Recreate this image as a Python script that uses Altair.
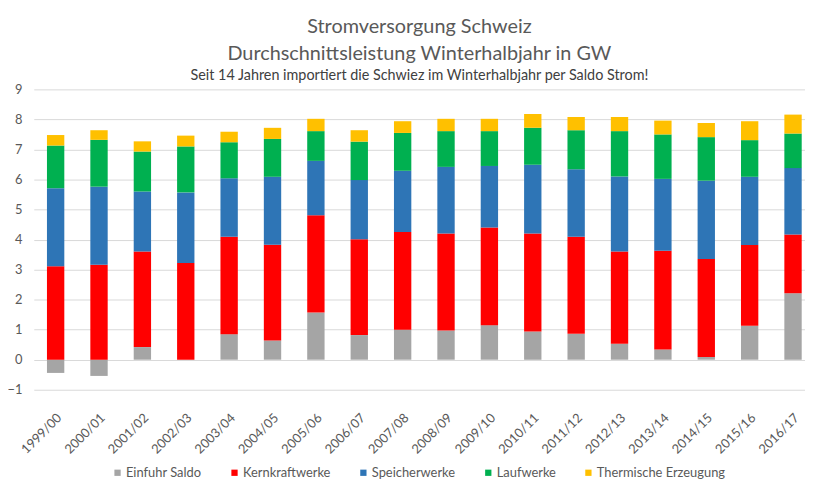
import altair as alt
import pandas as pd

seasons = ["1999/00", "2000/01", "2001/02", "2002/03", "2003/04", "2004/05",
           "2005/06", "2006/07", "2007/08", "2008/09", "2009/10", "2010/11",
           "2011/12", "2012/13", "2013/14", "2014/15", "2015/16", "2016/17"]

einfuhr = [-0.44, -0.54, 0.42, 0.0, 0.85, 0.64, 1.57, 0.82, 1.00, 0.97, 1.15, 0.94,
           0.86, 0.53, 0.34, 0.09, 1.13, 2.21]
kern = [3.11, 3.16, 3.18, 3.22, 3.24, 3.19, 3.24, 3.19, 3.25, 3.23, 3.25, 3.26,
        3.23, 3.07, 3.29, 3.26, 2.69, 1.96]
speicher = [2.60, 2.60, 2.00, 2.35, 1.95, 2.26, 1.81, 1.97, 2.04, 2.22, 2.05, 2.29,
            2.25, 2.50, 2.39, 2.61, 2.27, 2.21]
lauf = [1.42, 1.56, 1.33, 1.53, 1.20, 1.26, 0.99, 1.28, 1.26, 1.19, 1.16, 1.23,
        1.30, 1.51, 1.48, 1.45, 1.22, 1.15]
thermisch = [0.35, 0.32, 0.34, 0.36, 0.35, 0.37, 0.41, 0.38, 0.39, 0.41, 0.41, 0.46,
             0.44, 0.47, 0.46, 0.47, 0.63, 0.63]

series_names = ["Einfuhr Saldo", "Kernkraftwerke", "Speicherwerke", "Laufwerke",
                "Thermische Erzeugung"]
series_values = [einfuhr, kern, speicher, lauf, thermisch]
series_colors = ["#a5a5a5", "#ff0000", "#2e75b6", "#00b050", "#ffc000"]
y_ticks = list(range(-1, 10))

rows = []
for k, (name, vals) in enumerate(zip(series_names, series_values)):
    for s, v in zip(seasons, vals):
        rows.append({"Winter": s, "Quelle": name, "GW": v, "ord": k})
df = pd.DataFrame(rows)

FONT = "Lato"
GREY = "#595959"

chart = alt.Chart(df).mark_bar().encode(
    x=alt.X("Winter:N", sort=seasons, title=None,
            scale=alt.Scale(paddingInner=0.6, paddingOuter=0.19, align=0.8),
            axis=alt.Axis(labelAngle=-45, labelAlign="right", labelBaseline="middle",
                          labelPadding=26, labelOffset=4, ticks=False, domain=False,
                          labelFontSize=13, labelColor=GREY, labelFont=FONT)),
    y=alt.Y("GW:Q", title=None, stack="zero",
            scale=alt.Scale(domain=[-1, 9], nice=False),
            axis=alt.Axis(values=y_ticks, ticks=False, domain=False,
                          labelPadding=12, labelFontSize=13, labelColor=GREY,
                          labelFont=FONT, gridColor="#d9d9d9", gridWidth=1)),
    color=alt.Color("Quelle:N", sort=series_names,
                    scale=alt.Scale(domain=series_names, range=series_colors),
                    legend=alt.Legend(title=None, orient="none", direction="horizontal",
                                      legendX=78, legendY=380,
                                      symbolType="square", symbolSize=40,
                                      symbolStrokeWidth=0, labelFontSize=13,
                                      labelColor=GREY, labelFont=FONT,
                                      columnPadding=26, symbolOffset=0,
                                      labelOffset=2)),
    order=alt.Order("ord:Q", sort="ascending"),
).properties(
    width=778,
    height=303,
    padding={"left": 26, "top": 80, "right": 0, "bottom": 93},
    autosize=alt.AutoSizeParams(type="none"),
    title=alt.TitleParams(
        text=["Stromversorgung Schweiz", "Durchschnittsleistung Winterhalbjahr in GW"],
        subtitle="Seit 14 Jahren importiert die Schwiez im Winterhalbjahr per Saldo Strom!",
        font=FONT, fontSize=20, fontWeight="normal", color=GREY, lineHeight=27,
        subtitleFont=FONT, subtitleFontSize=14.5, subtitleColor="#404040",
        subtitlePadding=5, anchor="middle", offset=1,
    ),
).configure_view(stroke=None)

chart.save("out.html", embed_options={"renderer": "svg", "actions": False})
